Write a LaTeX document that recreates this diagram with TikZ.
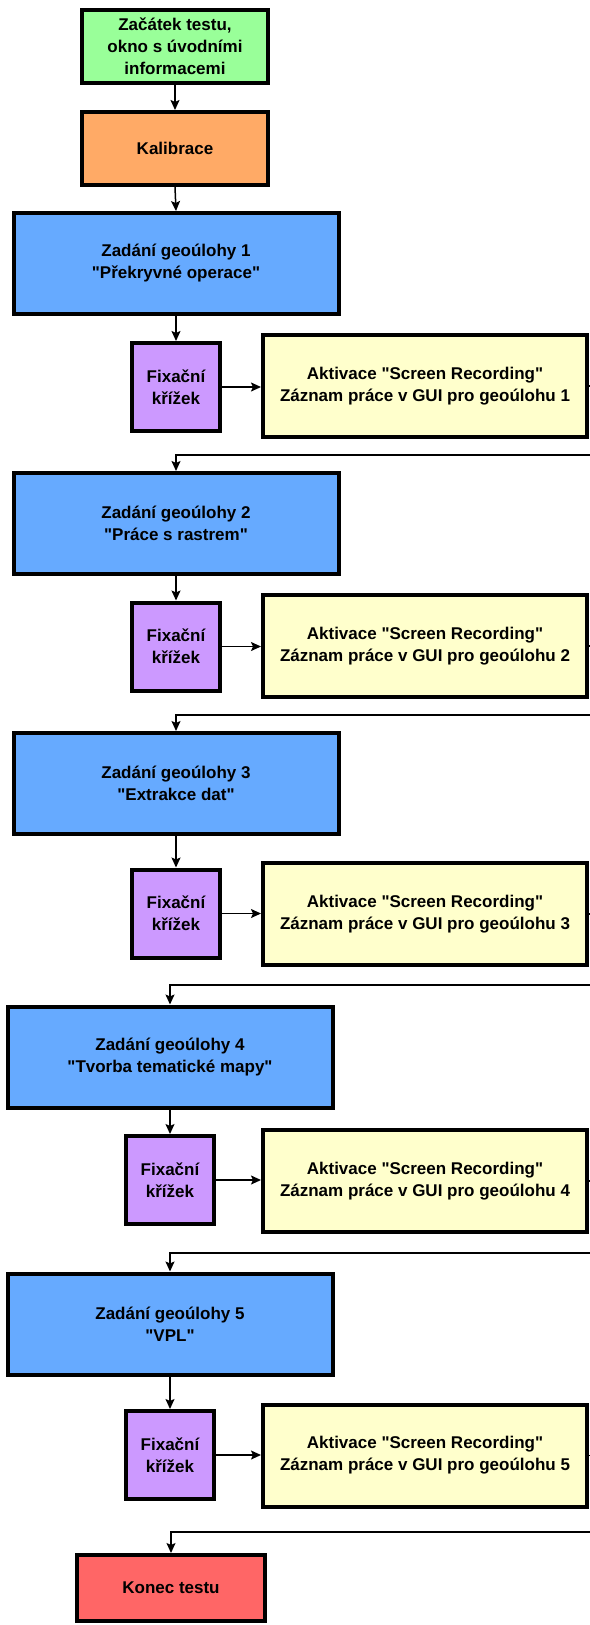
\documentclass[tikz,border=0pt]{standalone}
\usepackage{fontspec}
\setmainfont{Liberation Sans}[Ligatures=TeXOff]
\usetikzlibrary{arrows.meta}

\definecolor{startgreen}{RGB}{153,255,153}
\definecolor{calibrange}{RGB}{255,170,102}
\definecolor{taskblue}{RGB}{102,170,255}
\definecolor{fixpurple}{RGB}{204,153,255}
\definecolor{recyellow}{RGB}{255,255,204}
\definecolor{endred}{RGB}{255,102,102}

\begin{document}
\begin{tikzpicture}[x=1pt,y=-1pt,
  box/.style={draw=black,line width=4pt,align=center,inner sep=0pt,
    font=\bfseries\fontsize{17}{22}\selectfont},
  startbox/.style={box,fill=startgreen,minimum width=186pt,minimum height=73pt},
  calibbox/.style={box,fill=calibrange,minimum width=186pt,minimum height=73pt},
  taskbox/.style={box,fill=taskblue,minimum width=325pt,minimum height=101pt},
  fixbox/.style={box,fill=fixpurple,minimum width=88pt,minimum height=88pt},
  recbox/.style={box,fill=recyellow,minimum width=324pt,minimum height=102pt},
  endbox/.style={box,fill=endred,minimum width=188pt,minimum height=66pt},
  arr/.style={-{Stealth[length=10pt,width=9pt,inset=2pt]},line width=1.5pt}]
\useasboundingbox (0,0) rectangle (589,1625);
\node[startbox] (start) at (175,46.5) {Začátek testu,\\okno s úvodními\\informacemi};
\node[calibbox] (calib) at (175,148.5) {Kalibrace};
\node[taskbox] (task1) at (176,263.5) {Zadání geoúlohy 1\\"Překryvné operace"};
\node[fixbox] (fix1) at (176,387) {Fixační\\křížek};
\node[recbox] (rec1) at (425,386) {Aktivace "Screen Recording"\\Záznam práce v GUI pro geoúlohu 1};
\coordinate (back1) at (598,455);
\node[taskbox] (task2) at (176,523.5) {Zadání geoúlohy 2\\"Práce s rastrem"};
\node[fixbox] (fix2) at (176,646.5) {Fixační\\křížek};
\node[recbox] (rec2) at (425,646) {Aktivace "Screen Recording"\\Záznam práce v GUI pro geoúlohu 2};
\coordinate (back2) at (598,715);
\node[taskbox] (task3) at (176,783.5) {Zadání geoúlohy 3\\"Extrakce dat"};
\node[fixbox] (fix3) at (176,913.5) {Fixační\\křížek};
\node[recbox] (rec3) at (425,914) {Aktivace "Screen Recording"\\Záznam práce v GUI pro geoúlohu 3};
\coordinate (back3) at (598,985);
\node[taskbox] (task4) at (170,1057) {Zadání geoúlohy 4\\"Tvorba tematické mapy"};
\node[fixbox] (fix4) at (170,1180) {Fixační\\křížek};
\node[recbox] (rec4) at (425,1181) {Aktivace "Screen Recording"\\Záznam práce v GUI pro geoúlohu 4};
\coordinate (back4) at (598,1253);
\node[taskbox] (task5) at (170,1324) {Zadání geoúlohy 5\\"VPL"};
\node[fixbox] (fix5) at (170,1455) {Fixační\\křížek};
\node[recbox] (rec5) at (425,1455.5) {Aktivace "Screen Recording"\\Záznam práce v GUI pro geoúlohu 5};
\coordinate (back5) at (598,1532);
\node[endbox] (end) at (171,1588) {Konec testu};
\draw[arr] (start.south) -- (calib.north);
\draw[arr] (calib.south) -- (task1.north);
\draw[arr] (task1.south) -- (fix1.north);
\draw[arr] (fix1.east) -- (fix1.east -| rec1.west);
\draw[arr] (rec1.east) -| (back1) -| (task2.north);
\draw[arr] (task2.south) -- (fix2.north);
\draw[arr] (fix2.east) -- (fix2.east -| rec2.west);
\draw[arr] (rec2.east) -| (back2) -| (task3.north);
\draw[arr] (task3.south) -- (fix3.north);
\draw[arr] (fix3.east) -- (fix3.east -| rec3.west);
\draw[arr] (rec3.east) -| (back3) -| (task4.north);
\draw[arr] (task4.south) -- (fix4.north);
\draw[arr] (fix4.east) -- (fix4.east -| rec4.west);
\draw[arr] (rec4.east) -| (back4) -| (task5.north);
\draw[arr] (task5.south) -- (fix5.north);
\draw[arr] (fix5.east) -- (fix5.east -| rec5.west);
\draw[arr] (rec5.east) -| (back5) -| (end.north);
\end{tikzpicture}
\end{document}
